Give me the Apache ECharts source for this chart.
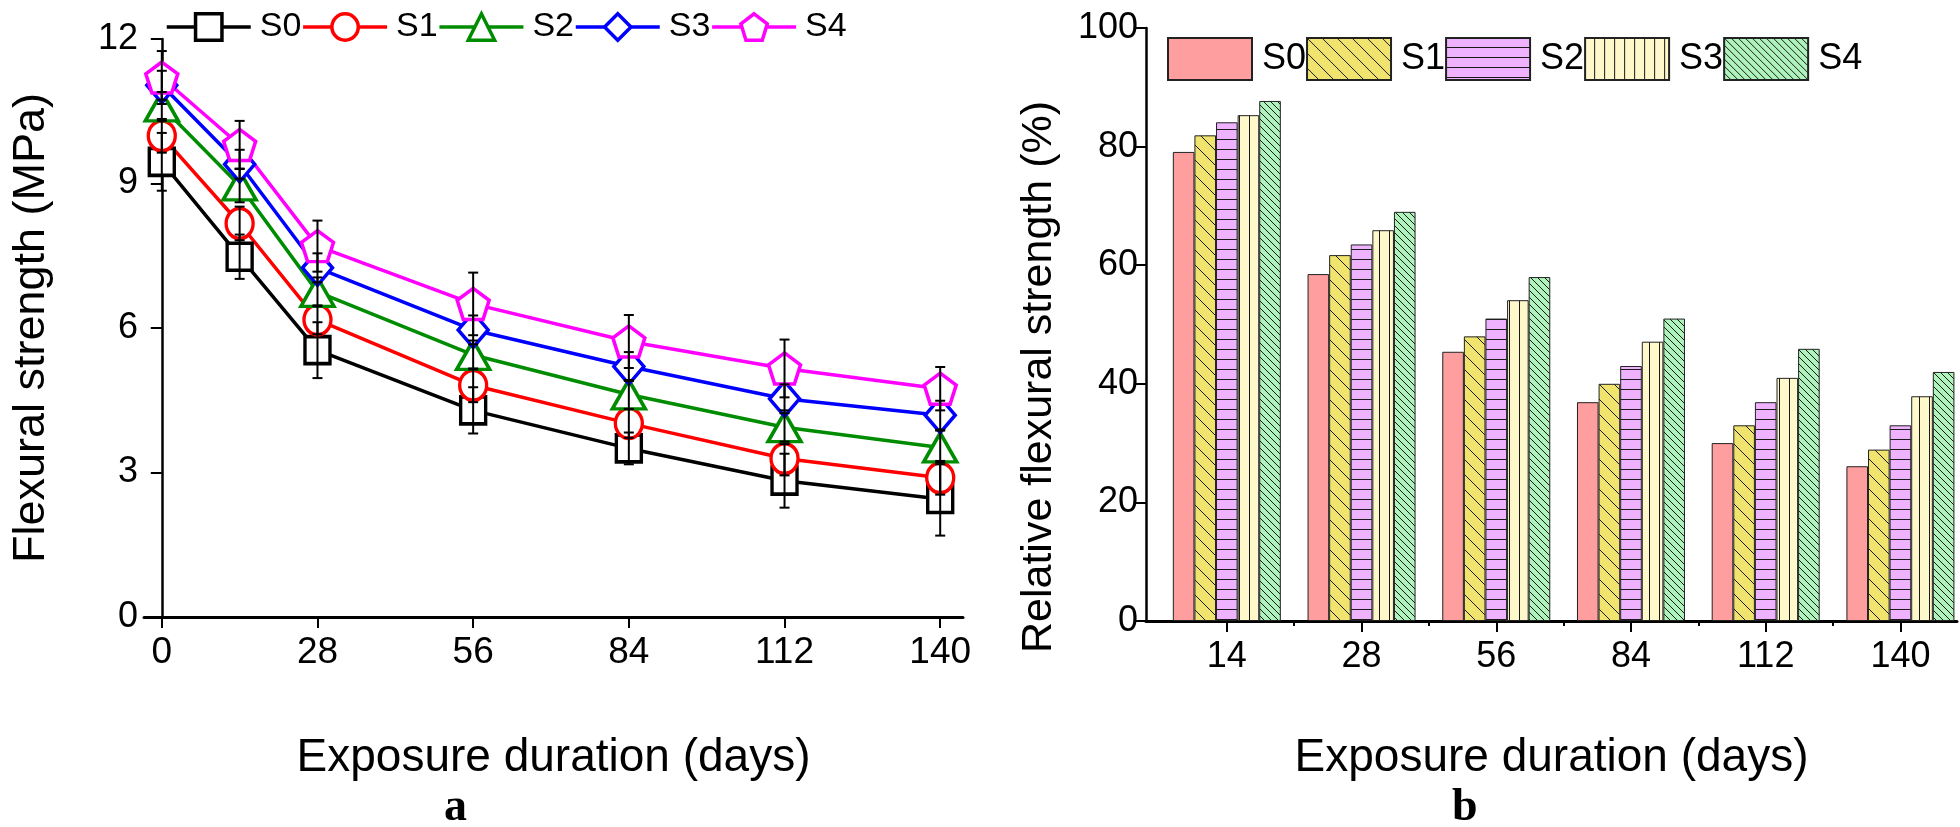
<!DOCTYPE html>
<html><head><meta charset="utf-8">
<script src="https://cdn.jsdelivr.net/npm/echarts@6/dist/echarts.min.js"></script>
<style>html,body{margin:0;padding:0;background:#fff}#c{width:1960px;height:827px}</style>
</head><body><div id="c"></div>
<script>
// ---------- data: panel a ----------
const days = [0, 14, 28, 56, 84, 112, 140];
const dayTicks = [0, 28, 56, 84, 112, 140];
const names = ['S0', 'S1', 'S2', 'S3', 'S4'];
const S0 = [9.45, 7.48, 5.54, 4.29, 3.50, 2.83, 2.45];
const S1 = [9.99, 8.17, 6.17, 4.81, 4.02, 3.29, 2.89];
const S2 = [10.60, 8.96, 6.75, 5.44, 4.62, 3.94, 3.52];
const S3 = [11.04, 9.40, 7.25, 5.96, 5.20, 4.53, 4.19];
const S4 = [11.20, 9.80, 7.70, 6.50, 5.72, 5.16, 4.74];
const S0err = [0.60, 0.46, 0.58, 0.48, 0.33, 0.56, 0.76];
const S1err = [0.35, 0.35, 0.30, 0.35, 0.30, 0.35, 0.35];
const S2err = [0.30, 0.35, 0.30, 0.30, 0.30, 0.35, 0.35];
const S3err = [0.30, 0.30, 0.30, 0.30, 0.30, 0.30, 0.30];
const S4err = [0.55, 0.50, 0.53, 0.65, 0.55, 0.60, 0.45];
// ---------- data: panel b ----------
const barCats = ['14', '28', '56', '84', '112', '140'];
const R0 = [79.1, 58.5, 45.4, 36.9, 30.0, 26.1];
const R1 = [81.9, 61.7, 48.0, 40.0, 33.0, 28.9];
const R2 = [84.1, 63.5, 51.0, 43.0, 36.9, 33.0];
const R3 = [85.3, 65.9, 54.1, 47.1, 41.0, 37.9];
const R4 = [87.7, 69.0, 58.0, 51.0, 45.9, 42.0];

const FONT = 'Liberation Sans, Arial, sans-serif';
const lineVals = [S0, S1, S2, S3, S4];
const lineErrs = [S0err, S1err, S2err, S3err, S4err];
const lineColors = ['#000000', '#ff0000', '#008c00', '#0000ff', '#ff00ff'];
const pentagon = 'path://M0,-10 L9.51,-3.09 L5.88,8.09 L-5.88,8.09 L-9.51,-3.09 Z';
const symbols = ['rect', 'circle', 'triangle', 'diamond', pentagon];
const symSizes = [[25, 27], [27, 30], [33, 29], [30, 35], [32, 31]];

const barVals = [R0, R1, R2, R3, R4];
function makePattern(bg, kind, step) {
  const c = document.createElement('canvas');
  c.width = step; c.height = step;
  const g = c.getContext('2d');
  g.fillStyle = bg; g.fillRect(0, 0, step, step);
  if (kind) {
    g.strokeStyle = '#1a1a1a'; g.lineWidth = 1;
    g.beginPath();
    if (kind === 'h') { g.moveTo(0, step - 0.5); g.lineTo(step, step - 0.5); }
    else if (kind === 'v') { g.moveTo(step - 0.5, 0); g.lineTo(step - 0.5, step); }
    else if (kind === 'd') {
      g.moveTo(0, 0); g.lineTo(step, step);
      g.moveTo(-3, step - 3); g.lineTo(3, step + 3);
      g.moveTo(step - 3, -3); g.lineTo(step + 3, 3);
    }
    g.stroke();
  }
  return { image: c, repeat: 'repeat' };
}
const barFills = [
  '#ff9e9e',
  makePattern('#f0e46e', 'd', 15),
  makePattern('#efb2ff', 'h', 10),
  makePattern('#fff8cb', 'v', 10),
  makePattern('#aef2bc', 'd', 7)
];

const series = [];
names.forEach((n, i) => {
  series.push({
    name: n, type: 'line', xAxisIndex: 0, yAxisIndex: 0,
    data: days.map((d, k) => [d, lineVals[i][k]]),
    symbol: symbols[i], symbolSize: symSizes[i],
    lineStyle: { color: lineColors[i], width: 3.5 },
    itemStyle: { color: '#ffffff', borderColor: lineColors[i], borderWidth: 3.5 },
    z: 3
  });
});
names.forEach((n, i) => {
  series.push({
    name: 'err' + n, type: 'custom', xAxisIndex: 0, yAxisIndex: 0,
    data: days.map((d, k) => [d, lineVals[i][k] - lineErrs[i][k], lineVals[i][k] + lineErrs[i][k]]),
    renderItem: function (params, api) {
      const lo = api.coord([api.value(0), api.value(1)]);
      const hi = api.coord([api.value(0), api.value(2)]);
      const w = 5;
      const st = { stroke: '#000', lineWidth: 2 };
      return { type: 'group', children: [
        { type: 'line', shape: { x1: lo[0], y1: lo[1], x2: hi[0], y2: hi[1] }, style: st },
        { type: 'line', shape: { x1: lo[0] - w, y1: lo[1], x2: lo[0] + w, y2: lo[1] }, style: st },
        { type: 'line', shape: { x1: hi[0] - w, y1: hi[1], x2: hi[0] + w, y2: hi[1] }, style: st }
      ] };
    },
    z: 5, silent: true
  });
});
names.forEach((n, i) => {
  series.push({
    name: 'b-' + n, type: 'bar', xAxisIndex: 1, yAxisIndex: 1,
    data: barVals[i].map((v, k) => [k + 1, v]),
    barWidth: 21.6, barGap: '0%',
    itemStyle: { color: barFills[i], borderColor: '#222', borderWidth: 1 }
  });
});

const chart = echarts.init(document.getElementById('c'));
chart.setOption({
  animation: false,
  backgroundColor: '#ffffff',
  textStyle: { fontFamily: FONT },
  grid: [
    { left: 144, right: 997, top: 39, bottom: 210 },
    { left: 1146, right: 3, top: 28, bottom: 206 }
  ],
  legend: [
    { data: names, left: 160, top: 5, itemWidth: 84, itemHeight: 33, itemGap: 0,
      selectedMode: false,
      lineStyle: { width: 3.5 },
      itemStyle: { borderWidth: 3.5 },
      textStyle: { fontSize: 34, color: '#000', fontFamily: FONT, padding: [0, 0, 0, 4] } },
    { data: names.map(n => 'b-' + n), left: 1162, top: 32, icon: 'rect', itemWidth: 84, itemHeight: 42, itemGap: 0,
      selectedMode: false, formatter: n => n.replace('b-', ''),
      textStyle: { fontSize: 36, color: '#000', fontFamily: FONT, padding: [0, 0, 0, 5] } }
  ],
  xAxis: [
    { type: 'value', gridIndex: 0, min: -3.2, max: 144.1,
      axisLine: { show: true, onZero: false, lineStyle: { color: '#000', width: 3 } },
      axisTick: { show: true, customValues: dayTicks, length: 11, lineStyle: { color: '#000', width: 2 } },
      axisLabel: { customValues: dayTicks, fontSize: 37, color: '#000', margin: 17, fontFamily: FONT },
      splitLine: { show: false },
      name: 'Exposure duration (days)', nameLocation: 'middle', nameGap: 118,
      nameTextStyle: { fontSize: 46, color: '#000', fontFamily: FONT } },
    { type: 'value', gridIndex: 1, min: 0.4, max: 6.42,
      axisLine: { show: true, onZero: false, lineStyle: { color: '#000', width: 3 } },
      axisTick: { show: true, customValues: [1, 2, 3, 4, 5, 6], length: 11, lineStyle: { color: '#000', width: 2 } },
      axisLabel: { customValues: [1, 2, 3, 4, 5, 6], formatter: v => barCats[Math.round(v) - 1], fontSize: 36, color: '#000', margin: 18, fontFamily: FONT },
      splitLine: { show: false },
      name: 'Exposure duration (days)', nameLocation: 'middle', nameGap: 114,
      nameTextStyle: { fontSize: 46, color: '#000', fontFamily: FONT } },
    { type: 'value', gridIndex: 1, min: 0.4, max: 6.42, position: 'bottom',
      axisLine: { show: false },
      axisTick: { show: true, customValues: [1.5, 2.5, 3.5, 4.5, 5.5], length: 5, lineStyle: { color: '#000', width: 2 } },
      axisLabel: { show: false }, splitLine: { show: false } }
  ],
  yAxis: [
    { type: 'value', gridIndex: 0, min: 0, max: 12, interval: 3,
      axisLine: { show: true, lineStyle: { color: '#000', width: 2.5 } },
      axisTick: { show: true, length: 11, lineStyle: { color: '#000', width: 2 } },
      axisLabel: { fontSize: 36, color: '#000', margin: 6, fontFamily: FONT },
      splitLine: { show: false },
      name: 'Flexural strength (MPa)', nameLocation: 'middle', nameGap: 90,
      nameTextStyle: { fontSize: 45, color: '#000', fontFamily: FONT } },
    { type: 'value', gridIndex: 1, min: 0, max: 100, interval: 20,
      axisLine: { show: true, lineStyle: { color: '#000', width: 2.5 } },
      axisTick: { show: true, length: 11, lineStyle: { color: '#000', width: 2 } },
      axisLabel: { fontSize: 36, color: '#000', margin: 8, fontFamily: FONT },
      splitLine: { show: false } }
  ],
  graphic: [
    { type: 'text', x: 1039, y: 377, rotation: Math.PI / 2,
      style: { text: 'Relative flexural strength (%)', font: '43px "Liberation Sans", Arial, sans-serif', fill: '#000', align: 'center', textAlign: 'center', verticalAlign: 'middle', textVerticalAlign: 'middle' } },
    { type: 'text', left: 444, top: 785, style: { text: 'a', font: 'bold 46px "Liberation Serif", serif', fill: '#000' } },
    { type: 'text', left: 1452, top: 785, style: { text: 'b', font: 'bold 46px "Liberation Serif", serif', fill: '#000' } }
  ],
  series: series
});
</script>
</body></html>
